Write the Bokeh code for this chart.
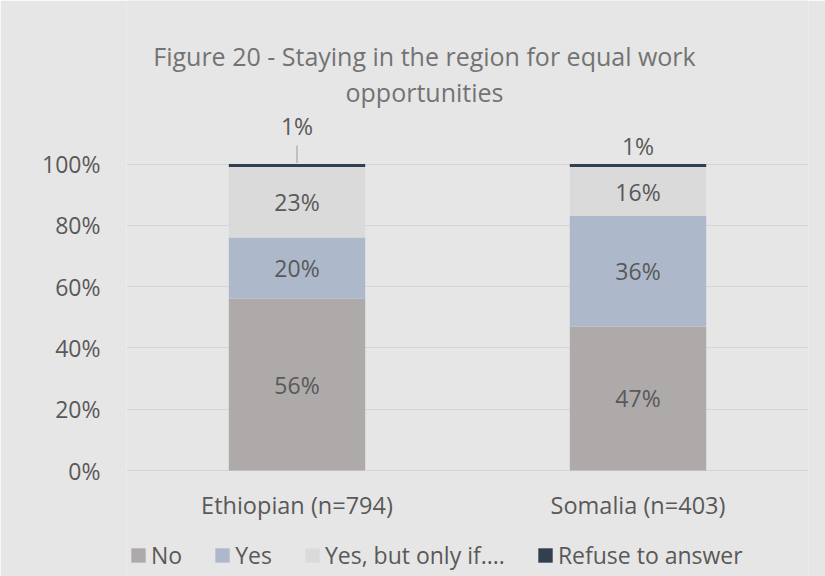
from bokeh.plotting import figure
from bokeh.models import (FactorRange, Range1d, Legend, LegendItem, ColumnDataSource,
                          FixedTicker, PrintfTickFormatter)
from bokeh.core.properties import value
from bokeh.embed import file_html
from bokeh.resources import INLINE

# ---- data ----
categories = ["Ethiopian (n=794)", "Somalia (n=403)"]
series = ["No", "Yes", "Yes, but only if....", "Refuse to answer"]
no = [56, 47]
yes = [20, 36]
yes_if = [23, 16]
refuse = [1, 1]
y_ticks = [0, 20, 40, 60, 80, 100]
title_lines = ["Figure 20 - Staying in the region for equal work", "opportunities"]

# ---- style / layout (pixels) ----
colors = ["#AEAAAA", "#ADB9CA", "#DADADA", "#323F4F"]
bg = "#E7E6E6"
txt = "#595959"
font = "Open Sans"
fs = "23px"

W, H = 825, 576
left_b, right_b = 126, 17
y0_px, y100_px = 470.0, 163.5          # pixel rows of 0% and 100%
ppu = (y0_px - y100_px) / 100.0        # pixels per percent


def y_at(px):
    """data y for a pixel row (from top)"""
    return (y0_px - px) / ppu


p = figure(width=W, height=H, output_backend="svg", toolbar_location=None,
           x_range=FactorRange(factors=categories, range_padding=0),
           y_range=Range1d(y_at(H), y_at(0)),
           min_border_left=left_b, min_border_right=right_b,
           min_border_top=0, min_border_bottom=0)
p.background_fill_color = bg
p.border_fill_color = bg
p.outline_line_color = None

keys = ["no", "yes", "yes_if", "refuse"]
src = ColumnDataSource(dict(cat=categories, no=no, yes=yes, yes_if=yes_if, refuse=refuse))
renderers = p.vbar_stack(keys, x="cat", width=0.4, color=colors, source=src,
                         line_color=None)

# axes
p.xgrid.grid_line_color = None
p.ygrid.grid_line_color = "#D5D5D5"
p.ygrid.ticker = FixedTicker(ticks=y_ticks)
p.yaxis.ticker = FixedTicker(ticks=y_ticks)
p.yaxis.formatter = PrintfTickFormatter(format="%d%%")
p.yaxis.axis_line_color = None
p.yaxis.major_tick_line_color = None
p.yaxis.minor_tick_line_color = None
p.yaxis.major_label_standoff = 20
p.yaxis.major_label_text_font = font
p.yaxis.major_label_text_font_size = fs
p.yaxis.major_label_text_color = txt
p.xaxis.visible = False

# category labels (below the 0% line)
p.text(x=categories, y=[y_at(504)] * len(categories), text=categories,
       text_align="center", text_baseline="middle",
       text_font=value(font), text_font_size="23.5px", text_color=txt)

# data labels
lab_x, lab_y, lab_t = [], [], []
for i, c in enumerate(categories):
    base = 0
    for vals in (no, yes, yes_if):
        v = vals[i]
        lab_x.append(c)
        lab_y.append(base + v / 2)
        lab_t.append(f"{v}%")
        base += v
refuse_label_px = [125.5, 145.0]
for i, c in enumerate(categories):
    lab_x.append(c)
    lab_y.append(y_at(refuse_label_px[i]))
    lab_t.append(f"{refuse[i]}%")
p.text(x=lab_x, y=lab_y, text=lab_t, text_align="center", text_baseline="middle",
       text_font=value(font), text_font_size=fs, text_color=txt)

# leader line for Ethiopian 1%
p.segment(x0=[categories[0]], y0=[100.3], x1=[categories[0]], y1=[y_at(145)],
          line_color="#A6A6A6", line_width=1.2)

# title
title_x = (424 - left_b) / ((W - left_b - right_b) / 2)
p.text(x=[title_x, title_x], y=[y_at(55), y_at(91)], text=title_lines, text_align="center",
       text_baseline="alphabetic", text_font=value(font), text_font_size="25px",
       text_color="#737373")

legend = Legend(items=[LegendItem(label=s, renderers=[r]) for s, r in zip(series, renderers)],
                orientation="horizontal", location=(3, 5))
legend.background_fill_alpha = 0
legend.border_line_color = None
legend.label_text_font = font
legend.label_text_font_size = fs
legend.label_text_color = txt
legend.glyph_width = 18
legend.glyph_height = 18
legend.label_standoff = 4
legend.spacing = 31
legend.padding = 0
legend.margin = 0
p.add_layout(legend, "center")

open("out.html", "w").write(file_html(p, INLINE))
